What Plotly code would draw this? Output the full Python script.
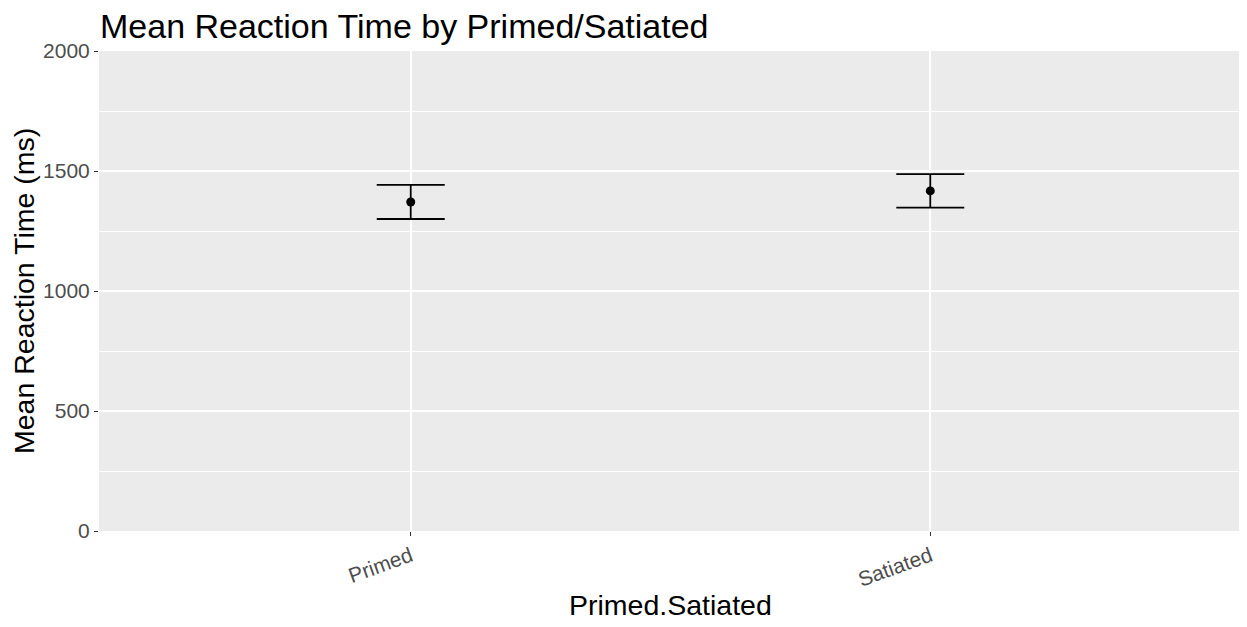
import plotly.graph_objects as go

categories = ["Primed", "Satiated"]
means = [1371, 1417]
upper = [1442, 1487]
lower = [1300, 1347]

err_plus = [u - m for u, m in zip(upper, means)]
err_minus = [m - l for m, l in zip(means, lower)]
xpos = list(range(len(categories)))

W, H = 1247, 627
L, R, T, B = 91, 13, 43, 104

fig = go.Figure()
fig.add_trace(go.Scatter(
    x=xpos, y=means, mode="markers",
    marker=dict(color="black", size=9),
    error_y=dict(type="data", array=err_plus, arrayminus=err_minus,
                 symmetric=False, color="black", thickness=1.8, width=34),
    showlegend=False,
))

pw = W - L - R
ph = H - T - B

fig.update_layout(
    width=W, height=H,
    margin=dict(l=L, r=R, t=T, b=B, autoexpand=False),
    paper_bgcolor="white",
    plot_bgcolor="#EBEBEB",
    font=dict(family="Liberation Sans, Arial, sans-serif", color="black"),
    title=dict(text="Mean Reaction Time by Primed/Satiated",
               x=92/W, xanchor="left", xref="container",
               y=1 - 18/H, yanchor="middle", yref="container",
               font=dict(size=34, color="black")),
    xaxis=dict(
        range=[-0.6, 1.6], tickmode="array", tickvals=xpos, ticktext=categories,
        tickangle=-20, tickfont=dict(size=21, color="#4D4D4D"),
        showgrid=True, gridcolor="white", gridwidth=1.6,
        ticks="outside", ticklen=4, tickcolor="#333333", tickwidth=1,
        zeroline=False, showline=False,
    ),
    yaxis=dict(
        range=[0, 2000], tickmode="array", tickvals=[0, 500, 1000, 1500, 2000],
        tickfont=dict(size=21, color="#4D4D4D"),
        showgrid=True, gridcolor="white", gridwidth=1.6,
        minor=dict(tickvals=[250, 750, 1250, 1750], showgrid=True, gridcolor="white", gridwidth=0.8),
        ticks="outside", ticklen=4, tickcolor="#333333", tickwidth=1,
        zeroline=False, showline=False,
    ),
    annotations=[
        dict(text="Mean Reaction Time (ms)", xref="paper", yref="paper",
             x=(16 - L) / pw, y=0.5, xanchor="center", yanchor="middle",
             textangle=-90, showarrow=False, font=dict(size=28.5, color="black")),
        dict(text="Primed.Satiated", xref="paper", yref="paper",
             x=0.5, y=(T + ph - 597) / ph, xanchor="center", yanchor="middle",
             showarrow=False, font=dict(size=28.5, color="black")),
    ],
)

fig.write_html("out.html")
